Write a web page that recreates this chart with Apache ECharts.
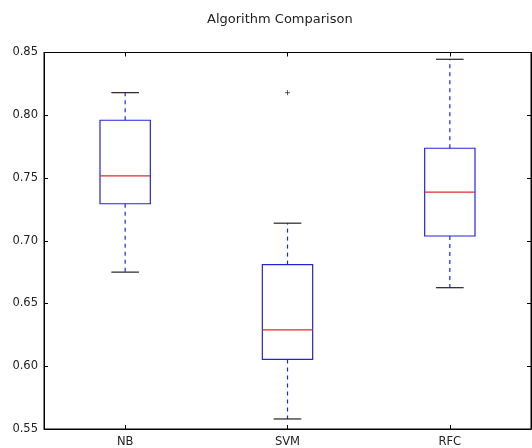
<!DOCTYPE html>
<html>
<head>
<meta charset="utf-8">
<script src="https://cdn.jsdelivr.net/npm/echarts@6/dist/echarts.min.js"></script>
<style>html,body{margin:0;padding:0;background:#fff}#c{width:532px;height:448px}</style>
</head>
<body>
<div id="c"></div>
<script>
var categories = ['NB', 'SVM', 'RFC'];
var whiskerLow  = [0.675, 0.558, 0.6626];
var q1          = [0.7295, 0.6054, 0.7038];
var median      = [0.7517, 0.629, 0.7388];
var q3          = [0.796, 0.681, 0.7737];
var whiskerHigh = [0.818, 0.714, 0.8446];
var outliers    = [[1, 0.818]]; // [categoryIndex, value]
var yTicks      = [0.55, 0.60, 0.65, 0.70, 0.75, 0.80, 0.85];

var boxData = categories.map(function (c, i) {
  return [i, whiskerLow[i], q1[i], median[i], q3[i], whiskerHigh[i]];
});

var BLUE = '#2424dc', RED = '#e02828', CAP = '#222';

function renderBox(params, api) {
  var i = api.value(0);
  var band = api.size([1, 0])[0];
  var hw = band * 0.155;
  var cw = band * 0.085;
  var pLo = api.coord([i, api.value(1)]);
  var pQ1 = api.coord([i, api.value(2)]);
  var pMd = api.coord([i, api.value(3)]);
  var pQ3 = api.coord([i, api.value(4)]);
  var pHi = api.coord([i, api.value(5)]);
  var x = pMd[0];
  var dash = {stroke: BLUE, lineWidth: 1.2, lineDash: [4, 4]};
  return {
    type: 'group',
    children: [
      {type: 'line', shape: {x1: x, y1: pQ3[1], x2: x, y2: pHi[1]}, style: dash},
      {type: 'line', shape: {x1: x, y1: pQ1[1], x2: x, y2: pLo[1]}, style: dash},
      {type: 'line', shape: {x1: x - cw, y1: pHi[1], x2: x + cw, y2: pHi[1]}, style: {stroke: CAP, lineWidth: 1.2}},
      {type: 'line', shape: {x1: x - cw, y1: pLo[1], x2: x + cw, y2: pLo[1]}, style: {stroke: CAP, lineWidth: 1.2}},
      {type: 'rect', shape: {x: x - hw, y: pQ3[1], width: 2 * hw, height: pQ1[1] - pQ3[1]}, style: {fill: null, stroke: BLUE, lineWidth: 1.2}},
      {type: 'line', shape: {x1: x - hw, y1: pMd[1], x2: x + hw, y2: pMd[1]}, style: {stroke: RED, lineWidth: 1.2}}
    ]
  };
}

var chart = echarts.init(document.getElementById('c'), null, {renderer: 'canvas'});
var labelStyle = {color: '#222', fontFamily: 'DejaVu Sans', fontSize: 11.5};
chart.setOption({
  animation: false,
  backgroundColor: '#fff',
  title: {
    text: 'Algorithm Comparison', left: 207, top: 13, padding: 0,
    textStyle: {fontFamily: 'DejaVu Sans', fontSize: 13, fontWeight: 'normal', color: '#222'}
  },
  grid: {left: 44, right: 1, top: 52.5, bottom: 17, show: true, borderColor: '#000', borderWidth: 1},
  xAxis: [{
    type: 'category', data: categories, boundaryGap: true, position: 'bottom',
    axisLine: {show: true, lineStyle: {color: '#000', width: 1}},
    axisTick: {show: true, inside: true, alignWithLabel: true, length: 4, lineStyle: {color: '#000'}},
    axisLabel: Object.assign({margin: 7}, labelStyle),
    splitLine: {show: false}
  }, {
    type: 'category', data: categories, boundaryGap: true, position: 'top',
    axisLine: {show: true, lineStyle: {color: '#000', width: 1}},
    axisTick: {show: true, inside: true, alignWithLabel: true, length: 4, lineStyle: {color: '#000'}},
    axisLabel: {show: false}, splitLine: {show: false}
  }],
  yAxis: [{
    type: 'value', min: yTicks[0], max: yTicks[yTicks.length - 1], interval: 0.05, position: 'left',
    axisLine: {show: true, lineStyle: {color: '#000', width: 1}},
    axisTick: {show: true, inside: true, length: 4, lineStyle: {color: '#000'}},
    axisLabel: Object.assign({margin: 6, formatter: function (v) { return v.toFixed(2); }}, labelStyle),
    splitLine: {show: false}
  }, {
    type: 'value', min: yTicks[0], max: yTicks[yTicks.length - 1], interval: 0.05, position: 'right',
    axisLine: {show: true, lineStyle: {color: '#000', width: 1}},
    axisTick: {show: true, inside: true, length: 4, lineStyle: {color: '#000'}},
    axisLabel: {show: false}, splitLine: {show: false}
  }],
  series: [{
    type: 'custom', xAxisIndex: 0, yAxisIndex: 0,
    renderItem: renderBox, data: boxData, clip: false,
    encode: {x: 0, y: [1, 2, 3, 4, 5]}
  }, {
    type: 'scatter', xAxisIndex: 0, yAxisIndex: 0, data: outliers,
    symbol: 'path://M0,5L10,5M5,0L5,10', symbolSize: 5,
    itemStyle: {color: 'none', borderColor: '#333', borderWidth: 1}
  }]
});
</script>
</body>
</html>
